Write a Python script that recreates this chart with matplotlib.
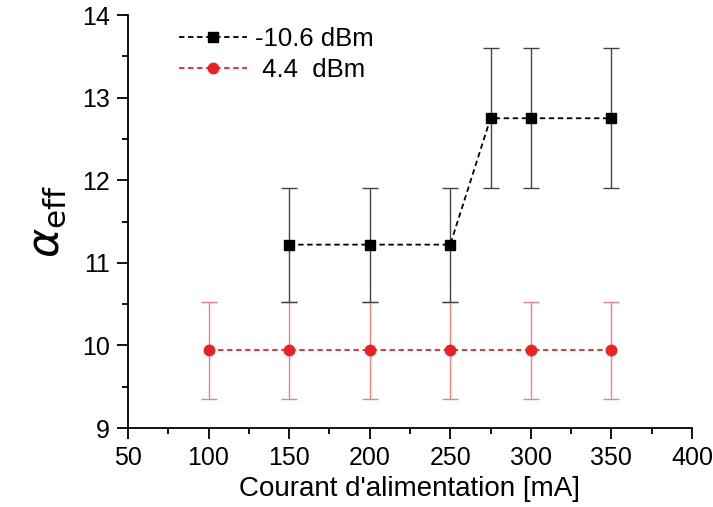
import matplotlib.pyplot as plt

plt.rcParams['font.family'] = ['Liberation Sans', 'DejaVu Sans']

current_low = [150, 200, 250, 275, 300, 350]
alpha_low = [11.22, 11.22, 11.22, 12.75, 12.75, 12.75]
err_low = [0.69, 0.69, 0.69, 0.85, 0.85, 0.85]

current_high = [100, 150, 200, 250, 300, 350]
alpha_high = [9.94, 9.94, 9.94, 9.94, 9.94, 9.94]
err_high = [0.59, 0.59, 0.59, 0.59, 0.59, 0.59]

x_ticks = [50, 100, 150, 200, 250, 300, 350, 400]
y_ticks = [9, 10, 11, 12, 13, 14]

fig = plt.figure(figsize=(7.13, 5.07), dpi=100)
ax = fig.add_axes([0.1795, 0.1558, 0.7910, 0.8146])

ax.errorbar(current_high, alpha_high, yerr=err_high, fmt='none', ecolor='#f08080',
            elinewidth=1, capsize=6, capthick=1, zorder=1)
ax.errorbar(current_low, alpha_low, yerr=err_low, fmt='none', ecolor='#444444',
            elinewidth=1, capsize=6, capthick=1, zorder=2)
ax.plot(current_low, alpha_low, linestyle=(0, (3, 2)), color='black', lw=1.3,
        marker='s', markersize=6.5, label='-10.6 dBm', zorder=3)
ax.plot(current_high, alpha_high, linestyle=(0, (3, 2)), color='#ee2024', lw=1.3,
        marker='o', markersize=7.5, label=' 4.4  dBm', zorder=3)

ax.set_xlim(50, 400)
ax.set_ylim(9, 14)
ax.set_xticks(x_ticks)
ax.set_yticks(y_ticks)
ax.set_xticks([75, 125, 175, 225, 275, 325, 375], minor=True)
ax.set_yticks([9.5, 10.5, 11.5, 12.5, 13.5], minor=True)
ax.tick_params(which='major', direction='out', length=8, width=1.3, labelsize=18, pad=5)
ax.tick_params(which='minor', direction='out', length=4, width=1.3)

for side in ('top', 'right'):
    ax.spines[side].set_visible(False)
for side in ('left', 'bottom'):
    ax.spines[side].set_linewidth(1.3)

ax.set_xlabel("Courant d'alimentation [mA]", fontsize=20, labelpad=4)
ax.set_ylabel(r'$\alpha_{\mathrm{eff}}$', fontsize=32, labelpad=10)

ax.legend(loc='upper left', bbox_to_anchor=(0.05, 1.028), frameon=False, fontsize=18.5,
          handlelength=2.65, handletextpad=0.3, labelspacing=0.3)

fig.savefig('out.png', dpi=100)
